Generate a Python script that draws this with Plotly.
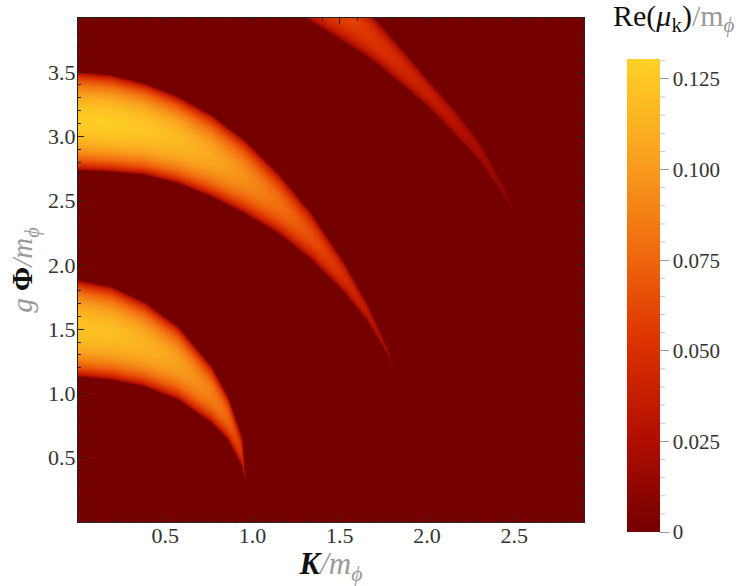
import numpy as np
import plotly.graph_objects as go

# ---- values ----
# band 1 (lowest instability band): K/m_phi samples, lower & upper g*Phi/m_phi edge, peak Re(mu)/m_phi
band1_K    = [0.00, 0.19, 0.38, 0.575, 0.766, 0.86, 0.94, 0.967]
band1_lo   = [1.13, 1.106, 1.054, 0.95, 0.77, 0.64, 0.43, 0.25]
band1_hi   = [1.88, 1.83, 1.71, 1.52, 1.21, 0.976, 0.665, 0.25]
band1_peak = [0.122, 0.120, 0.113, 0.103, 0.088, 0.075, 0.050, 0.0]

# band 2
band2_K    = [0.00, 0.19, 0.383, 0.575, 0.766, 0.956, 1.149, 1.34, 1.53, 1.667, 1.78, 1.83]
band2_lo   = [2.737, 2.724, 2.70, 2.634, 2.53, 2.40, 2.245, 2.04, 1.78, 1.546, 1.287, 1.13]
band2_hi   = [3.50, 3.475, 3.41, 3.307, 3.165, 2.97, 2.71, 2.40, 2.01, 1.675, 1.34, 1.13]
band2_peak = [0.127, 0.128, 0.124, 0.117, 0.107, 0.095, 0.080, 0.065, 0.048, 0.033, 0.018, 0.0]

# band 3 (top right)
band3_K    = [1.30, 1.45, 1.60, 1.70, 1.85, 2.00, 2.15, 2.30, 2.45, 2.54]
band3_lo   = [3.92, 3.80, 3.67, 3.58, 3.41, 3.24, 3.03, 2.81, 2.51, 2.31]
band3_hi   = [4.40, 4.25, 4.08, 3.92, 3.69, 3.45, 3.22, 2.96, 2.60, 2.31]
band3_peak = [0.065, 0.062, 0.057, 0.053, 0.046, 0.039, 0.031, 0.022, 0.010, 0.0]

x_ticks = [0.5, 1.0, 1.5, 2.0, 2.5]
y_ticks = [0.5, 1.0, 1.5, 2.0, 2.5, 3.0, 3.5]
cb_ticks = [0, 0.025, 0.05, 0.075, 0.1, 0.125]
cb_ticktext = ["0", "0.025", "0.050", "0.075", "0.100", "0.125"]

X_RANGE = [0, 2.9]
Y_RANGE = [0, 3.92]
Z_MAX = 0.1305

# ---- raster built from the read band outlines ----
kx = np.linspace(X_RANGE[0], X_RANGE[1], 380)
gy = np.linspace(Y_RANGE[0], Y_RANGE[1], 500)
KK, GG = np.meshgrid(kx, gy)
Z = np.zeros_like(KK)
for bk, blo, bhi, bpk in [(band1_K, band1_lo, band1_hi, band1_peak),
                          (band2_K, band2_lo, band2_hi, band2_peak),
                          (band3_K, band3_lo, band3_hi, band3_peak)]:
    inK = (KK >= bk[0]) & (KK <= bk[-1])
    lo = np.interp(KK, bk, blo)
    hi = np.interp(KK, bk, bhi)
    pk = np.interp(KK, bk, bpk)
    w = np.maximum(hi - lo, 1e-9)
    t = (GG - lo) / w
    inside = inK & (t > 0) & (t < 1)
    val = pk * np.sqrt(np.clip(np.sin(np.pi * t), 0, 1))
    Z = np.where(inside, np.maximum(Z, val), Z)

colorscale = [
    [0.0, "#740000"],
    [0.2, "#b20e00"],
    [0.4, "#dc3200"],
    [0.6, "#f16c0f"],
    [0.8, "#f9a31f"],
    [1.0, "#ffd125"],
]

FONT = "Liberation Serif"
GRAY = "#9a9a9a"
TICKC = "#333"

# layout geometry (pixels)
W, H = 742, 586
L, T = 78, 18
plot_w, plot_h = 506, 504
R = W - L - plot_w
B = H - T - plot_h
REF_L, REF_BOT = 78, 522   # plot-area edges in reference pixels
cb_top_px, cb_bot_px = 59, 532
cb_len = cb_bot_px - cb_top_px
cb_y = (REF_BOT - (cb_top_px + cb_bot_px) / 2) / plot_h
cb_x = (627 - REF_L) / plot_w

fig = go.Figure()
fig.add_trace(go.Heatmap(
    x=kx, y=gy, z=Z, zmin=0, zmax=Z_MAX,
    colorscale=colorscale, zsmooth="fast",
    colorbar=dict(
        x=cb_x, xanchor="left", xpad=0, ypad=0,
        y=cb_y, yanchor="middle", len=cb_len, lenmode="pixels",
        thickness=33, outlinewidth=0,
        tickvals=cb_ticks, ticktext=cb_ticktext,
        ticks="outside", ticklen=9, tickcolor=GRAY, tickwidth=1,
        tickfont=dict(family=FONT, size=21, color=TICKC),
    ),
    hoverinfo="skip",
))

# colorbar minor ticks
shapes = []
cb_bot_paper = (REF_BOT - cb_bot_px) / plot_h
cb_span_paper = cb_len / plot_h
bar_right = (627 + 33 - REF_L) / plot_w
for i in range(0, 27):
    v = i * 0.005
    if i % 5 == 0:
        continue
    yp = cb_bot_paper + v / Z_MAX * cb_span_paper
    shapes.append(dict(type="line", xref="paper", yref="paper",
                       x0=bar_right, x1=bar_right + 5 / plot_w, y0=yp, y1=yp,
                       line=dict(color="#c8c8c8", width=1)))

axis_common = dict(
    showline=True, linecolor="#222", linewidth=1, mirror="ticks",
    ticks="inside", ticklen=6, tickcolor="#222", tickwidth=1,
    showgrid=False, zeroline=False, automargin=False,
    tickfont=dict(family=FONT, size=22, color=TICKC),
)

fig.update_layout(
    width=W, height=H,
    margin=dict(l=L, r=R, t=T, b=B, autoexpand=False),
    paper_bgcolor="white", plot_bgcolor="#740000",
    shapes=shapes,
    xaxis=dict(range=X_RANGE, tickvals=x_ticks, ticktext=[f"{v:.1f}" for v in x_ticks],
               ticklabelstandoff=-6,
               minor=dict(ticks="inside", dtick=0.1, ticklen=3, tickcolor="#222", showgrid=False),
               title=dict(text="<b><i>K</i></b><span style='color:%s'><i>/m</i><sub><i>ϕ</i></sub></span>" % GRAY,
                          font=dict(family=FONT, size=31, color="#111"), standoff=2),
               **axis_common),
    yaxis=dict(range=Y_RANGE, tickvals=y_ticks, ticktext=[f"{v:.1f}" for v in y_ticks],
               ticklabelstandoff=-3,
               minor=dict(ticks="inside", dtick=0.1, ticklen=3, tickcolor="#222", showgrid=False),
               title=dict(text="<span style='color:%s'><i>g</i></span> <b>Φ</b><span style='color:%s'><i>/m</i><sub><i>ϕ</i></sub></span>" % (GRAY, GRAY),
                          font=dict(family=FONT, size=29, color="#111"), standoff=6),
               **axis_common),
    annotations=[dict(
        xref="paper", yref="paper", x=(674 - REF_L) / plot_w, y=(REF_BOT - 18) / plot_h,
        xanchor="center", yanchor="middle", showarrow=False,
        text="Re(<i>μ</i><sub>k</sub>)<span style='color:%s'>/m<sub><i>ϕ</i></sub></span>" % GRAY,
        font=dict(family=FONT, size=30, color="#111"),
    )],
)

fig.write_html("out.html", config={"displayModeBar": False},
               post_script="document.body.style.margin='0';")
